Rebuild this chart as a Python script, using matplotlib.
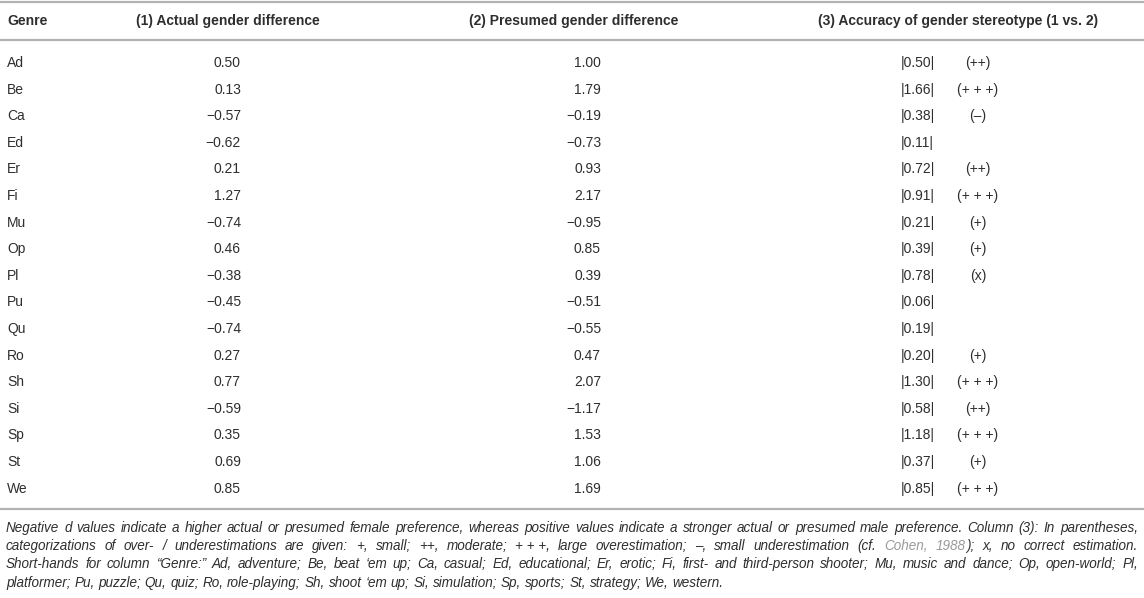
import re
import matplotlib
matplotlib.use("Agg")
import matplotlib.pyplot as plt

plt.rcParams['font.family'] = ['Liberation Sans', 'DejaVu Sans']

# table data
genres = ['Ad', 'Be', 'Ca', 'Ed', 'Er', 'Fi', 'Mu', 'Op', 'Pl', 'Pu', 'Qu',
          'Ro', 'Sh', 'Si', 'Sp', 'St', 'We']
actual = [0.50, 0.13, -0.57, -0.62, 0.21, 1.27, -0.74, 0.46, -0.38, -0.45,
          -0.74, 0.27, 0.77, -0.59, 0.35, 0.69, 0.85]
presumed = [1.00, 1.79, -0.19, -0.73, 0.93, 2.17, -0.95, 0.85, 0.39, -0.51,
            -0.55, 0.47, 2.07, -1.17, 1.53, 1.06, 1.69]
accuracy = [0.50, 1.66, 0.38, 0.11, 0.72, 0.91, 0.21, 0.39, 0.78, 0.06,
            0.19, 0.20, 1.30, 0.58, 1.18, 0.37, 0.85]
category = ['(++)', '(+ + +)', '(\u2013)', '', '(++)', '(+ + +)',
            '(+)', '(+)', '(x)', '', '', '(+)', '(+ + +)', '(++)',
            '(+ + +)', '(+)', '(+ + +)']
headers = ['Genre', '(1) Actual gender difference',
           '(2) Presumed gender difference',
           '(3) Accuracy of gender stereotype (1 vs. 2)']

# footnote; {..} marks the grey citation link, NBSP keeps "+ + +" together
notes = [
    'Negative d values indicate a higher actual or presumed female preference, whereas positive '
    'values indicate a stronger actual or presumed male preference. Column (3): In parentheses,',
    'categorizations of over- / underestimations are given: +, small; ++, moderate; +\u00a0+\u00a0+, '
    'large overestimation; \u2013, small underestimation (cf. {Cohen,} {1988}); x, no correct estimation.',
    'Short-hands for column \u201cGenre:\u201d Ad, adventure; Be, beat \u2018em up; Ca, casual; '
    'Ed, educational; Er, erotic; Fi, first- and third-person shooter; Mu, music and dance; '
    'Op, open-world; Pl,',
    'platformer; Pu, puzzle; Qu, quiz; Ro, role-playing; Sh, shoot \u2018em up; Si, simulation; '
    'Sp, sports; St, strategy; We, western.',
]

W, H = 1144, 598
TXT = '#2e2e2e'
RULE = '#b2b2b2'
LINK = '#9a9a9a'
FS = 10

fig = plt.figure(figsize=(W / 100, H / 100), dpi=100)
ax = fig.add_axes([0, 0, 1, 1])
ax.set_xlim(0, W)
ax.set_ylim(H, 0)
ax.axis('off')


def fmt(v):
    return f'{v:.2f}'.replace('-', '\u2212')


# rules
for y in (2, 40, 509):
    ax.plot([0, W], [y, y], color=RULE, lw=1.6, solid_capstyle='butt')

# header row
y_head = 21
ax.text(7, y_head, headers[0], weight='bold', fontsize=FS, color=TXT,
        ha='left', va='center')
for x, h in zip((228, 574, 958), headers[1:]):
    ax.text(x, y_head, h, weight='bold', fontsize=FS, color=TXT,
            ha='center', va='center')

# body rows
y0, dy = 63, 26.6
for i, g in enumerate(genres):
    y = y0 + i * dy
    ax.text(7, y, g, fontsize=FS, color=TXT, ha='left', va='center')
    ax.text(241, y, fmt(actual[i]), fontsize=FS, color=TXT, ha='right', va='center')
    ax.text(601, y, fmt(presumed[i]), fontsize=FS, color=TXT, ha='right', va='center')
    ax.text(901, y, f'|{accuracy[i]:.2f}|', fontsize=FS, color=TXT,
            ha='left', va='center')
    if category[i]:
        ax.text(978, y, category[i], fontsize=FS, color=TXT,
                ha='center', va='center')

# justified italic footnote, drawn word by word
renderer = fig.canvas.get_renderer()


def width_of(s, size):
    t = ax.text(0, 0, s, fontsize=size, style='italic')
    w = t.get_window_extent(renderer=renderer).width
    t.remove()
    return w


def make_word(word, y, size):
    parts = [p for p in re.split(r'(\{[^}]*\})', word) if p]
    arts = []
    total = 0
    for p in parts:
        color = TXT
        if p.startswith('{'):
            p = p[1:-1]
            color = LINK
        t = ax.text(0, y, p, fontsize=size, style='italic', color=color,
                    ha='left', va='center')
        w = t.get_window_extent(renderer=renderer).width
        arts.append((t, w))
        total += w
    return arts, total


x_left, x_right = 6, 1138
fn_size = 10 * 1108 / width_of(notes[0].replace('{', '').replace('}', ''), 10)
space = width_of('x x', fn_size) - width_of('xx', fn_size)

for k, line in enumerate(notes):
    y = 528 + k * 18.2
    words = [make_word(w, y, fn_size) for w in line.split(' ')]
    used = sum(w for _, w in words)
    gap = space
    if k < len(notes) - 1:
        gap = (x_right - x_left - used) / (len(words) - 1)
    x = x_left
    for arts, w in words:
        xx = x
        for t, ww in arts:
            t.set_x(xx)
            xx += ww
        x += w + gap

fig.savefig('out.png', dpi=100, facecolor='white')
